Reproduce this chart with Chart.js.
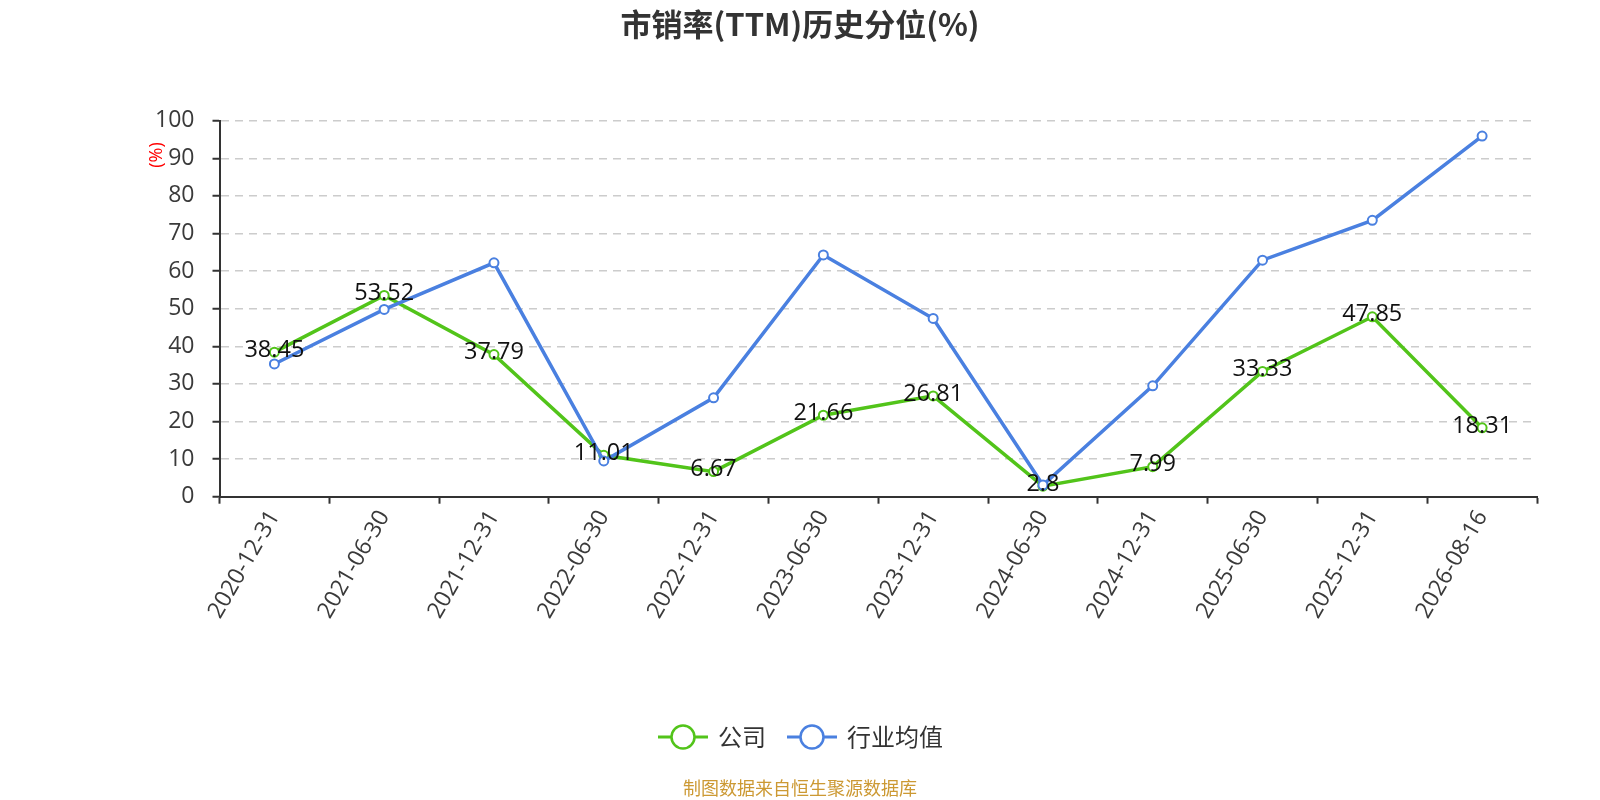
<!DOCTYPE html>
<html>
<head>
<meta charset="utf-8">
<script src="https://cdn.jsdelivr.net/npm/chart.js@4"></script>
<style>
  html, body { margin: 0; padding: 0; background: #fff; }
  #wrap { width: 1600px; height: 800px; position: relative; }
</style>
</head>
<body>
<div id="wrap"><canvas id="c"></canvas></div>
<script>
const categories = ["2020-12-31","2021-06-30","2021-12-31","2022-06-30","2022-12-31","2023-06-30","2023-12-31","2024-06-30","2024-12-31","2025-06-30","2025-12-31","2026-08-16"];
const companyValues = [38.45, 53.52, 37.79, 11.01, 6.67, 21.66, 26.81, 2.8, 7.99, 33.33, 47.85, 18.31];
const industryValues = [35.3, 49.8, 62.2, 9.5, 26.3, 64.3, 47.4, 3.1, 29.5, 62.9, 73.5, 95.9];
const seriesNames = ["公司", "行业均值"];
const seriesColors = ["#52c41a", "#4a80e0"];
const yMin = 0, yMax = 100, yStep = 10;
const titleText = "市销率(TTM)历史分位(%)";
const yAxisTitle = "(%)";
const footerText = "制图数据来自恒生聚源数据库";

const FONT = '"Open Sans", "Noto Sans CJK SC", sans-serif';
const CJK = '"Noto Sans CJK SC", "Open Sans", sans-serif';

const decorPlugin = {
  id: 'decor',
  afterDraw(chart) {
    const ctx = chart.ctx;
    ctx.save();
    // Title
    ctx.fillStyle = '#333';
    ctx.font = 'bold 31px ' + CJK;
    ctx.textAlign = 'center';
    ctx.textBaseline = 'middle';
    ctx.fillText(titleText, 800, 24);

    // Y axis title
    ctx.save();
    ctx.translate(157, 155);
    ctx.rotate(-Math.PI / 2);
    ctx.fillStyle = '#ff0000';
    ctx.font = '18px ' + FONT;
    ctx.textAlign = 'center';
    ctx.textBaseline = 'middle';
    ctx.fillText(yAxisTitle, 0, 0);
    ctx.restore();

    // Data labels for company series
    const meta = chart.getDatasetMeta(0);
    ctx.fillStyle = '#111';
    ctx.font = '23.5px ' + FONT;
    ctx.textAlign = 'center';
    ctx.textBaseline = 'middle';
    meta.data.forEach((pt, i) => {
      ctx.fillText(String(companyValues[i]), pt.x, pt.y - 2);
    });

    // Legend
    const ly = 737;
    const items = [
      { x0: 658, name: seriesNames[0], color: seriesColors[0] },
      { x0: 787, name: seriesNames[1], color: seriesColors[1] }
    ];
    items.forEach(it => {
      ctx.strokeStyle = it.color;
      ctx.lineWidth = 3;
      ctx.beginPath();
      ctx.moveTo(it.x0, ly);
      ctx.lineTo(it.x0 + 50, ly);
      ctx.stroke();
      ctx.beginPath();
      ctx.arc(it.x0 + 25, ly, 11.5, 0, Math.PI * 2);
      ctx.fillStyle = '#fff';
      ctx.fill();
      ctx.lineWidth = 2.5;
      ctx.stroke();
      ctx.fillStyle = '#333';
      ctx.font = '24px ' + CJK;
      ctx.textAlign = 'left';
      ctx.textBaseline = 'middle';
      ctx.fillText(it.name, it.x0 + 60, ly);
    });

    // Footer
    ctx.fillStyle = '#cc9933';
    ctx.font = '18px ' + CJK;
    ctx.textAlign = 'center';
    ctx.textBaseline = 'middle';
    ctx.fillText(footerText, 800, 788);
    ctx.restore();
  }
};

new Chart(document.getElementById('c'), {
  type: 'line',
  data: {
    labels: categories,
    datasets: [
      {
        label: seriesNames[0],
        data: companyValues,
        borderColor: seriesColors[0],
        backgroundColor: '#fff',
        borderWidth: 3.5,
        pointRadius: 4.5,
        pointBorderWidth: 2,
        pointBackgroundColor: '#fff',
        pointBorderColor: seriesColors[0],
        tension: 0,
        order: 1
      },
      {
        label: seriesNames[1],
        data: industryValues,
        borderColor: seriesColors[1],
        backgroundColor: '#fff',
        borderWidth: 3.5,
        pointRadius: 4.5,
        pointBorderWidth: 2,
        pointBackgroundColor: '#fff',
        pointBorderColor: seriesColors[1],
        tension: 0,
        order: 0
      }
    ]
  },
  options: {
    responsive: true,
    maintainAspectRatio: false,
    animation: false,
    layout: { padding: { top: 120.7, right: 63, left: 0, bottom: 0 } },
    plugins: {
      legend: { display: false },
      title: { display: false },
      tooltip: { enabled: false }
    },
    scales: {
      x: {
        type: 'category',
        offset: true,
        grid: {
          offset: true,
          drawOnChartArea: false,
          tickLength: 7,
          tickColor: '#333',
          tickWidth: 2
        },
        border: { display: true, color: '#333', width: 2 },
        ticks: {
          autoSkip: false,
          minRotation: 60,
          maxRotation: 60,
          color: '#3a3a3a',
          padding: 2,
          font: { size: 23, family: FONT }
        },
        afterFit(scale) { scale.height = 303.3; }
      },
      y: {
        min: yMin,
        max: yMax,
        ticks: {
          stepSize: yStep,
          color: '#3a3a3a',
          padding: 18,
          font: { size: 23, family: FONT }
        },
        grid: {
          color: '#cccccc',
          lineWidth: 1.5,
          tickColor: '#333',
          tickLength: 7,
          tickWidth: 2
        },
        border: { display: true, color: '#333', width: 2, dash: [8, 6] },
        afterFit(scale) { scale.width = 219.5; }
      }
    }
  },
  plugins: [decorPlugin]
});
</script>
</body>
</html>
